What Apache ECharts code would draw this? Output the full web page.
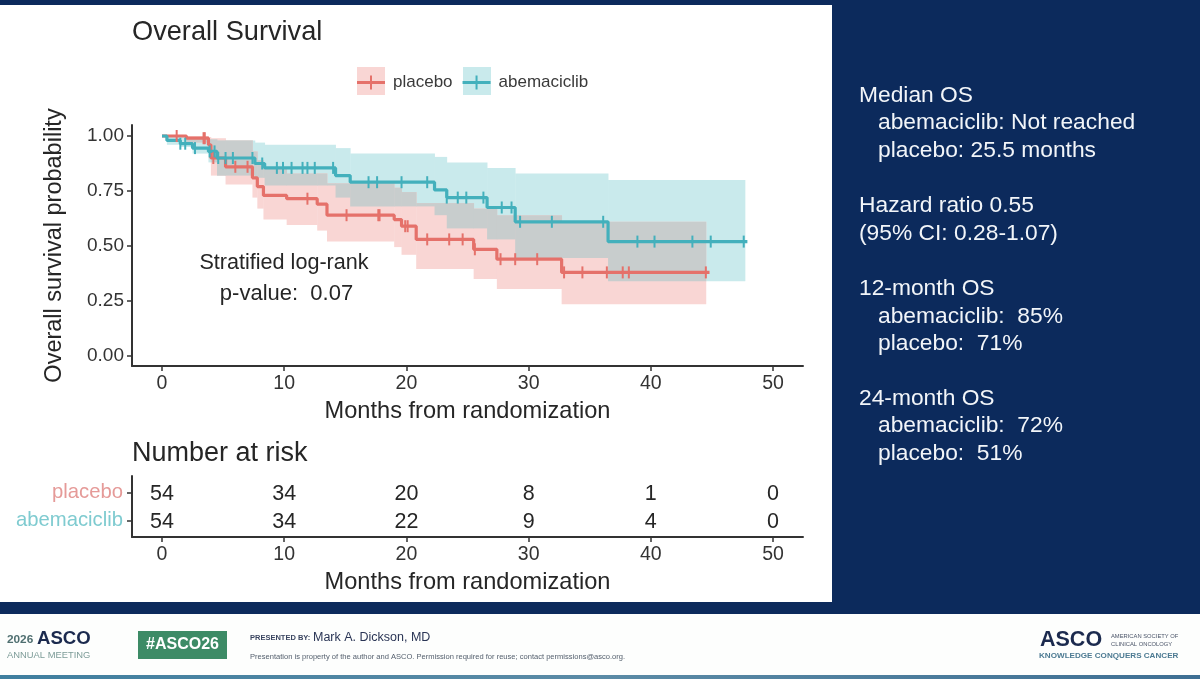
<!DOCTYPE html>
<html><head><meta charset="utf-8">
<style>html,body{margin:0;padding:0;background:#0c2a5c}#c{width:1200px;height:679px}</style>
<script src="https://cdn.jsdelivr.net/npm/echarts@6/dist/echarts.min.js"></script>
</head><body><div id="c"></div>
<script>
const placeboTime  = [0,2.0,3.8,4.0,5.2,7.4,7.8,8.3,10.2,12.7,13.5,19.0,19.6,20.8,25.5,27.4,32.7];
const placeboSurv  = [1.0,.99,.96,.90,.86,.81,.77,.73,.715,.69,.64,.62,.59,.53,.485,.44,.38];
const placeboUpper = [1.0,1.0,.995,.99,.98,.93,.89,.85,.83,.83,.785,.765,.745,.695,.67,.64,.61];
const placeboLower = [1.0,.97,.93,.82,.78,.72,.67,.62,.595,.57,.52,.495,.46,.395,.35,.305,.235];
const placeboEnd = 44.5;
const placeboCensor = [1.2,3.4,3.5,4.2,6.0,7.0,11.9,15.1,17.7,17.8,19.9,20.1,21.7,23.5,24.6,25.6,27.7,28.9,30.7,32.9,34.4,36.4,37.7,38.2,44.5];

const abemaTime  = [0,0.4,1.5,2.5,3.8,4.5,7.6,8.4,14.2,15.4,22.3,23.3,26.6,28.9,36.5];
const abemaSurv  = [1.0,.98,.965,.945,.93,.90,.875,.855,.82,.79,.755,.72,.675,.61,.52];
const abemaUpper = [1.0,1.0,.995,.99,.985,.98,.97,.96,.945,.92,.905,.88,.855,.83,.80];
const abemaLower = [1.0,.96,.95,.92,.88,.82,.81,.775,.72,.68,.64,.58,.53,.445,.34];
const abemaEnd = 47.7;
const abemaLineEnd = 47.9;
const abemaCensor = [1.5,1.9,2.7,3.9,4.3,4.6,5.2,5.8,7.4,8.2,9.4,9.9,10.6,11.5,11.9,12.5,14.0,16.9,17.6,19.6,21.7,23.3,24.2,24.9,26.3,27.8,28.6,29.3,31.9,36.1,38.9,40.3,43.4,44.9,47.6];

const riskTimes = [0,10,20,30,40,50];
const riskPlacebo = [54,34,20,8,1,0];
const riskAbema = [54,34,22,9,4,0];
const xTicks = [0,10,20,30,40,50];
const yTicks = [0,.25,.5,.75,1];
const sideText = [
 ['Median OS',0,96],['abemaciclib: Not reached',1,123],['placebo: 25.5 months',1,151],
 ['Hazard ratio 0.55',0,206],['(95% CI: 0.28-1.07)',0,234],
 ['12-month OS',0,289],['abemaciclib:  85%',1,317],['placebo:  71%',1,344],
 ['24-month OS',0,399],['abemaciclib:  72%',1,426],['placebo:  51%',1,454]];

const RED='#e5716a', TEAL='#43b0bc', RED_BAND='#f9d6d4', TEAL_BAND='#c9eaec', OVERLAP='#c8cdcd';
const FONT='"Liberation Sans",Arial,sans-serif', INK='#262626', NAVY='#0c2a5c';

function steps(t,s,end){ const r=t.map((x,i)=>[x,s[i]]); r.push([end,s[s.length-1]]); return r; }
function survAt(t,s,x){ let v=s[0]; t.forEach((a,i)=>{ if(a<=x) v=s[i]; }); return v; }
function bandData(t,u,l,end){ return t.map((a,i)=>[a,i+1<t.length?t[i+1]:end,l[i],u[i]]); }
function overlapData(A,B){
 const out=[];
 A.forEach(a=>B.forEach(b=>{
  const x0=Math.max(a[0],b[0]),x1=Math.min(a[1],b[1]),lo=Math.max(a[2],b[2]),hi=Math.min(a[3],b[3]);
  if(x1>x0&&hi>lo) out.push([x0,x1,lo,hi]);
 }));
 return out;
}
function bandSeries(name,data,color,z){
 return {type:'custom',name,xAxisIndex:0,yAxisIndex:0,silent:true,z,clip:true,data,
  encode:{x:[0,1],y:[2,3]},
  renderItem(p,api){
   const a=api.coord([api.value(0),api.value(3)]), b=api.coord([api.value(1),api.value(2)]);
   return {type:'rect',shape:{x:a[0],y:a[1],width:b[0]-a[0]+.4,height:b[1]-a[1]},style:{fill:color}};
  }};
}
function lineSeries(name,data,color){
 return {type:'line',name,xAxisIndex:0,yAxisIndex:0,step:'end',data,symbol:'none',silent:true,z:4,
   lineStyle:{color,width:3.2},itemStyle:{color}};
}
function censorSeries(name,times,t,s,color){
 return {type:'scatter',name,xAxisIndex:0,yAxisIndex:0,silent:true,z:5,symbol:'rect',symbolSize:[2,12],
   itemStyle:{color,opacity:1},data:times.map(x=>[x,survAt(t,s,x)])};
}
function riskSeries(name,row,vals){
 return {type:'scatter',name,xAxisIndex:1,yAxisIndex:1,silent:true,symbolSize:0,itemStyle:{opacity:1},
   data:riskTimes.map((x,i)=>[x,row,vals[i]]),
   label:{show:true,position:'inside',offset:[0,1.5],opacity:1,formatter:p=>String(p.value[2]),fontFamily:FONT,fontSize:21.5,color:INK}};
}
function xAxis(gridIndex){
 return {type:'value',gridIndex,min:-2.455,max:52.45,name:'Months from randomization',nameLocation:'middle',nameGap:33,
  nameTextStyle:{fontFamily:FONT,fontSize:23.6,color:INK},splitLine:{show:false},
  axisLine:{show:true,onZero:false,lineStyle:{color:'#333',width:2}},
  axisTick:{show:true,length:5,customValues:xTicks,lineStyle:{color:'#333',width:1.5}},
  axisLabel:{customValues:xTicks,fontFamily:FONT,fontSize:19.5,color:'#333',margin:8,formatter:v=>String(v)}};
}
const T=(text,x,y,size,color,extra)=>({type:'text',x,y,z:10,silent:true,
  style:Object.assign({text,fill:color,fontFamily:FONT,fontSize:size,textVerticalAlign:'middle',textAlign:'left'},extra||{})});
const R=(x,y,width,height,fill)=>({type:'rect',z:-1,silent:true,shape:{x,y,width,height},style:{fill}});

const graphic=[
 R(0,5,832,597,'#ffffff'),
 R(0,614,1200,61,'#fdfefd'),
 {type:'rect',z:-1,silent:true,shape:{x:0,y:675,width:1200,height:4},
  style:{fill:new echarts.graphic.LinearGradient(0,0,1,0,[{offset:0,color:'#3f7f9f'},{offset:.5,color:'#5b8ba6'},{offset:1,color:'#3e6f93'}])}},
 {type:'rect',z:1,silent:true,shape:{x:357,y:67,width:28,height:28},style:{fill:RED_BAND}},
 {type:'rect',z:1,silent:true,shape:{x:463,y:67,width:28,height:28},style:{fill:TEAL_BAND}},
 T('Overall Survival',132,33,27.2,INK),
 T('Number at risk',132,454,27,INK),
 T('Stratified log-rank',284,263,21.6,INK,{textAlign:'center'}),
 T('p-value:  0.07',286.5,294,22,INK,{textAlign:'center'}),
 T('2026',7,640,11.8,'#4f6f70',{fontWeight:'bold'}),
 T('ASCO',37,639,18.6,'#1b2a4e',{fontWeight:'bold'}),
 T('ANNUAL MEETING',7,655,9.4,'#7d9c98'),
 {type:'rect',z:1,silent:true,shape:{x:138,y:631,width:89,height:28},style:{fill:'#3d8b66'}},
 T('#ASCO26',182.5,645,16,'#ffffff',{textAlign:'center',fontWeight:'bold'}),
 T('PRESENTED BY:',250,638,7.5,'#3a4560',{fontWeight:'bold'}),
 T('Mark A. Dickson, MD',313,638,12.5,'#2a3555'),
 T('Presentation is property of the author and ASCO. Permission required for reuse; contact permissions@asco.org.',250,657,7.55,'#55606e'),
 T('ASCO',1040,640,21.5,'#1b2a4e',{fontWeight:'bold'}),
 T('AMERICAN SOCIETY OF',1111,636,5.8,'#4a5468'),
 T('CLINICAL ONCOLOGY',1111,644,5.8,'#4a5468'),
 T('KNOWLEDGE CONQUERS CANCER',1039,656,8.1,'#4c7a92',{fontWeight:'bold'})
];
sideText.forEach(([s,ind,y])=>graphic.push(T(s,ind?878:859,y,22.8,'#f2f5f9')));

const teal=bandData(abemaTime,abemaUpper,abemaLower,abemaEnd);
const red=bandData(placeboTime,placeboUpper,placeboLower,placeboEnd);

const chart=echarts.init(document.getElementById('c'),null,{renderer:'canvas',width:1200,height:679});
chart.setOption({
 animation:false,backgroundColor:NAVY,graphic,
 legend:{left:357,top:74,padding:0,itemWidth:28,itemHeight:14,itemGap:10,selectedMode:false,
  textStyle:{fontFamily:FONT,fontSize:17,color:'#3a3a3a',padding:[0,0,0,3]},
  data:[{name:'placebo',icon:'path://M0 5.5H28V8.5H0ZM13 0H15V14H13Z',itemStyle:{color:RED}},
        {name:'abemaciclib',icon:'path://M0 5.5H28V8.5H0ZM13 0H15V14H13Z',itemStyle:{color:TEAL}}]},
 grid:[{left:132,top:125,width:671,height:241},{left:132,top:476,width:671,height:61}],
 xAxis:[xAxis(0),xAxis(1)],
 yAxis:[
  {type:'value',gridIndex:0,min:-0.0455,max:1.05,name:'Overall survival probability',nameLocation:'middle',nameGap:65,
   nameTextStyle:{fontFamily:FONT,fontSize:23.5,color:INK},splitLine:{show:false},
   axisLine:{show:true,onZero:false,lineStyle:{color:'#333',width:2}},
   axisTick:{show:true,length:5,customValues:yTicks,lineStyle:{color:'#333',width:1.5}},
   axisLabel:{customValues:yTicks,fontFamily:FONT,fontSize:19,color:'#333',margin:8,formatter:v=>v.toFixed(2)}},
  {type:'value',gridIndex:1,min:0.4,max:2.6,splitLine:{show:false},
   axisLine:{show:true,onZero:false,lineStyle:{color:'#333',width:2}},
   axisTick:{show:true,length:5,customValues:[1,2],lineStyle:{color:'#333',width:1.5}},
   axisLabel:{customValues:[1,2],fontFamily:FONT,fontSize:20.3,margin:9,
     formatter:v=>+v===2?'placebo':'abemaciclib',
     color:v=>+v===2?'#e59a98':'#7fcbd0'}}
 ],
 series:[
  bandSeries('abemaciclib CI',teal,TEAL_BAND,2),
  bandSeries('placebo CI',red,RED_BAND,2),
  bandSeries('CI overlap',overlapData(teal,red),OVERLAP,3),
  lineSeries('placebo',steps(placeboTime,placeboSurv,placeboEnd+.3),RED),
  lineSeries('abemaciclib',steps(abemaTime,abemaSurv,abemaLineEnd),TEAL),
  censorSeries('placebo censored',placeboCensor,placeboTime,placeboSurv,RED),
  censorSeries('abemaciclib censored',abemaCensor,abemaTime,abemaSurv,TEAL),
  riskSeries('placebo at risk',2,riskPlacebo),
  riskSeries('abemaciclib at risk',1,riskAbema)
 ]
});
</script></body></html>
